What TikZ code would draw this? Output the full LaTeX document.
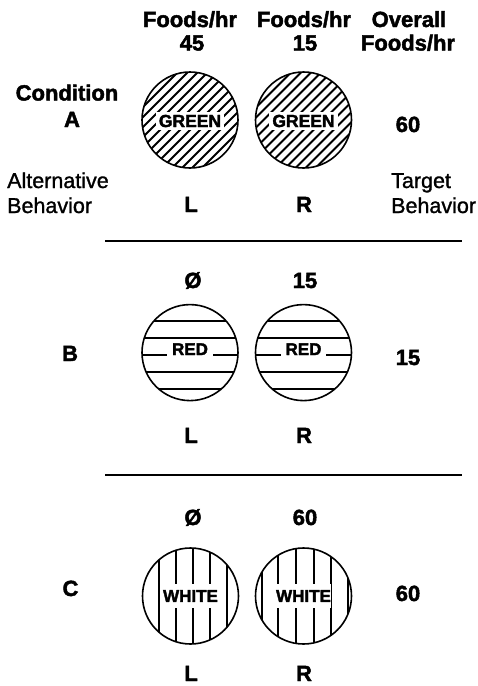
\documentclass[tikz,border=0pt]{standalone}
\usepackage{fontspec}
\setmainfont{Liberation Sans}
\newfontfamily\heavyfont{Liberation Sans Bold}[FakeBold=2]
\newfontfamily\midfont{Liberation Sans}[FakeBold=1.2]
\begin{document}
\begin{tikzpicture}[x=1pt,y=-1pt,
  lbl/.style={font=\fontsize{22}{25}\heavyfont, inner sep=0pt, anchor=base},
  note/.style={font=\fontsize{21.5}{25}\midfont, inner sep=0pt, anchor=base west},
  tag/.style={font=\fontsize{17}{20}\heavyfont, fill=white, inner xsep=3pt, inner ysep=3pt},
  rim/.style={line width=1.6pt},
  hatch/.style={line width=2pt},
  rule/.style={line width=2.6pt}]
\useasboundingbox (0,0) rectangle (478,686);

% disc centres
\coordinate (aL) at (190,120);
\coordinate (aR) at (303.5,120);
\coordinate (bL) at (190,352.6);
\coordinate (bR) at (303.5,352.6);
\coordinate (cL) at (190.5,596);
\coordinate (cR) at (303.5,596);

% ---------- header ----------
\node[lbl] (h1) at (190,27) {Foods/hr};
\node[lbl] (h2) at (304,27) {Foods/hr};
\node[lbl] (h3) at (409,27) {Overall};
\node[lbl] (h1v) at (192,50.5) {45};
\node[lbl] (h2v) at (305,50.5) {15};
\node[lbl] (h3b) at (408,50.5) {Foods/hr};

% ---------- condition A ----------
\node[lbl] (condA1) at (67,100.5) {Condition};
\node[lbl] (condA2) at (72,127) {A};
\node[lbl] (totA) at (408,132) {60};
\node[note] (alt1) at (7,188) {Alternative};
\node[note] (alt2) at (7,213) {Behavior};
\node[note] (tgt1) at (391,188) {Target};
\node[note] (tgt2) at (391,213) {Behavior};
\node[lbl] (aLl) at (191,212) {L};
\node[lbl] (aRl) at (304,212) {R};

\foreach \c in {aL,aR}{
  \begin{scope}
    \clip (\c) circle (48pt);
    \foreach \t in {-100,-90,...,100}
      \draw[hatch] ([shift={(\t-60,60)}]\c) -- ([shift={(\t+60,-60)}]\c);
  \end{scope}
  \node[tag, font=\fontsize{17.5}{20}\heavyfont] (g\c) at ([yshift=-1pt]\c) {GREEN};
  \draw[rim] (\c) circle (48pt);
}

\coordinate (r1a) at (105,241);
\coordinate (r1b) at (462,241);
\draw[rule] (r1a) -- (r1b);

% ---------- condition B ----------
\node[lbl] (bLv) at (193,288) {Ø};
\node[lbl] (bRv) at (305,288) {15};
\node[lbl] (condB) at (70,361) {B};
\node[lbl] (totB) at (408,365) {15};
\node[lbl] (bLl) at (191,443) {L};
\node[lbl] (bRl) at (304,443) {R};

\foreach \c in {bL,bR}{
  \begin{scope}
    \clip (\c) circle (48pt);
    \foreach \d in {-32,-15,2,19,36}
      \draw[hatch] ([shift={(-60,\d)}]\c) -- ([shift={(60,\d)}]\c);
  \end{scope}
  \node[tag, inner xsep=5pt, inner ysep=1pt] (r\c) at ([yshift=3.4pt]\c) {RED};
  \draw[rim] (\c) circle (48pt);
}

\coordinate (r2a) at (105,475);
\coordinate (r2b) at (462,475);
\draw[rule] (r2a) -- (r2b);

% ---------- condition C ----------
\node[lbl] (cLv) at (193,525) {Ø};
\node[lbl] (cRv) at (305,525) {60};
\node[lbl] (condC) at (70.5,596) {C};
\node[lbl] (totC) at (408,601) {60};
\node[lbl] (cLl) at (191,681) {L};
\node[lbl] (cRl) at (304,681) {R};

\begin{scope}
  \clip (cL) circle (48pt);
  \foreach \d in {-31.5,-14.5,2.5,19.5,36.5}
    \draw[hatch] ([shift={(\d,-60)}]cL) -- ([shift={(\d,60)}]cL);
\end{scope}
\begin{scope}
  \clip (cR) circle (48pt);
  \foreach \d in {-42,-25.5,-7.5,10.5,27.5,44.5}
    \draw[hatch] ([shift={(\d,-60)}]cR) -- ([shift={(\d,60)}]cR);
\end{scope}
\foreach \c in {cL,cR}{
  \node[tag, inner xsep=0.5pt, inner ysep=6pt] (w\c) at (\c) {WHITE};
  \draw[rim] (\c) circle (48pt);
}
\end{tikzpicture}
\end{document}
